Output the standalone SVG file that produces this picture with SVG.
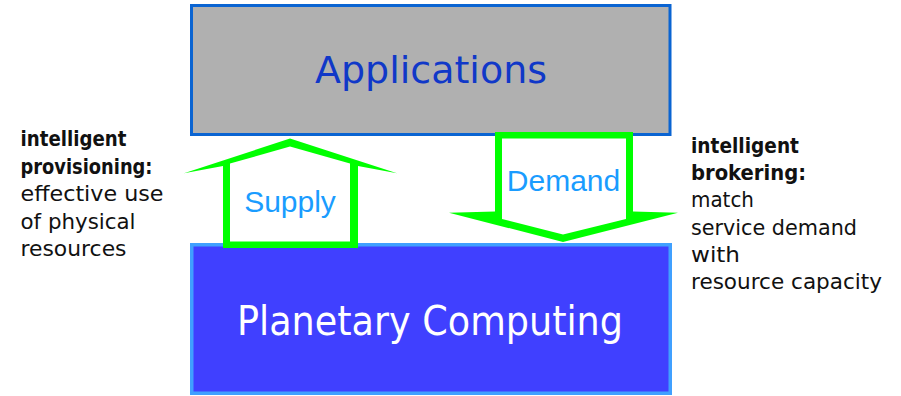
<svg xmlns="http://www.w3.org/2000/svg" width="901" height="396" viewBox="0 0 901 396">
  <style>
    .box-app { fill: #b0b0b0; stroke: #0a64d2; stroke-width: 3; }
    .box-pc { fill: #4040ff; stroke: #40a0ff; stroke-width: 3.5; }
    .title { font-family: "DejaVu Sans", "Liberation Sans", sans-serif; text-anchor: middle; }
    .arrow-out { fill: #00ff00; }
    .arrow-in { fill: #ffffff; }
    .arrow-label { font-family: "Liberation Sans", Arial, sans-serif; font-size: 30px; fill: #1a9cff; text-anchor: middle; }
    .note { font-family: "DejaVu Sans", "Liberation Sans", sans-serif; font-size: 20.5px; fill: #111111; }
    .note .b { font-weight: bold; }
  </style>

  <!-- upper layer -->
  <g id="applications">
    <rect class="box-app" x="191.5" y="5.5" width="478.5" height="129"/>
    <text class="title" x="431" y="83" font-size="38" fill="#1038c8" textLength="232" lengthAdjust="spacingAndGlyphs">Applications</text>
  </g>

  <!-- lower layer -->
  <g id="planetary-computing">
    <rect class="box-pc" x="191.75" y="244.75" width="478.5" height="148.5"/>
    <text class="title" x="430" y="335" font-size="40" fill="#ffffff" textLength="386" lengthAdjust="spacingAndGlyphs">Planetary Computing</text>
  </g>

  <!-- block arrows between the layers -->
  <g id="connectors">
    <g id="supply">
      <path class="arrow-out" d="M290,138.5 L397,173.3 L358,166 L358,248 L223,248 L223,166 L184,173.3 Z"/>
      <path class="arrow-in" d="M290,146.5 L350,163.5 L350,241.5 L230,241.5 L230,163.5 Z"/>
      <text class="arrow-label" x="290" y="212">Supply</text>
    </g>
    <g id="demand">
      <path class="arrow-out" d="M495,132 L633,132 L633,211.5 L678,212.7 L563,242 L449,212.7 L495,211.5 Z"/>
      <path class="arrow-in" d="M502,138.5 L626,138.5 L626,219 L563,234.5 L502,219 Z"/>
      <text class="arrow-label" x="563.5" y="191" font-size="29">Demand</text>
    </g>
  </g>

  <!-- side notes -->
  <g id="provisioning-note" class="note">
    <text class="b" x="20.5" y="146" textLength="106" lengthAdjust="spacingAndGlyphs">intelligent</text>
    <text class="b" x="20.5" y="173.5" textLength="132" lengthAdjust="spacingAndGlyphs">provisioning:</text>
    <text x="20.5" y="201" textLength="143" lengthAdjust="spacingAndGlyphs">effective use</text>
    <text x="20.5" y="228.5" textLength="115" lengthAdjust="spacingAndGlyphs">of physical</text>
    <text x="20.5" y="256" textLength="106" lengthAdjust="spacingAndGlyphs">resources</text>
  </g>

  <g id="brokering-note" class="note">
    <text class="b" x="691" y="152.5" textLength="108" lengthAdjust="spacingAndGlyphs">intelligent</text>
    <text class="b" x="691" y="180" textLength="115" lengthAdjust="spacingAndGlyphs">brokering:</text>
    <text x="691" y="207" textLength="63" lengthAdjust="spacingAndGlyphs">match</text>
    <text x="691" y="234.5" textLength="166" lengthAdjust="spacingAndGlyphs">service demand</text>
    <text x="691" y="262" textLength="49" lengthAdjust="spacingAndGlyphs">with</text>
    <text x="691" y="289" textLength="191" lengthAdjust="spacingAndGlyphs">resource capacity</text>
  </g>
</svg>
